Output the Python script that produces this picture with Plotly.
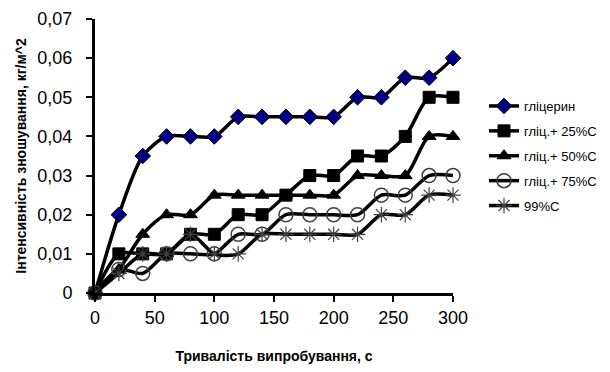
import plotly.graph_objects as go

time_s = [0, 20, 40, 60, 80, 100, 120, 140, 160, 180, 200, 220, 240, 260, 280, 300]
glycerin = [0, 0.02, 0.035, 0.04, 0.04, 0.04, 0.045, 0.045, 0.045, 0.045, 0.045, 0.05, 0.05, 0.055, 0.055, 0.06]
gl_25C = [0, 0.01, 0.01, 0.01, 0.015, 0.015, 0.02, 0.02, 0.025, 0.03, 0.03, 0.035, 0.035, 0.04, 0.05, 0.05]
gl_50C = [0, 0.006, 0.015, 0.02, 0.02, 0.025, 0.025, 0.025, 0.025, 0.025, 0.025, 0.03, 0.03, 0.03, 0.04, 0.04]
gl_75C = [0, 0.006, 0.005, 0.01, 0.01, 0.01, 0.015, 0.015, 0.02, 0.02, 0.02, 0.02, 0.025, 0.025, 0.03, 0.03]
c_99 = [0, 0.005, 0.01, 0.01, 0.015, 0.01, 0.01, 0.015, 0.015, 0.015, 0.015, 0.015, 0.02, 0.02, 0.025, 0.025]

names = ["гліцерин", "гліц.+ 25%C", "гліц.+ 50%C", "гліц.+ 75%C", "99%C"]
y_tickvals = [0, 0.01, 0.02, 0.03, 0.04, 0.05, 0.06, 0.07]
y_ticktext = ["0", "0,01", "0,02", "0,03", "0,04", "0,05", "0,06", "0,07"]
x_tickvals = [0, 50, 100, 150, 200, 250, 300]

FONT = "Liberation Sans, Arial, sans-serif"

styles = [
    dict(symbol="diamond", size=12, color="#000080", line=dict(color="#000000", width=1)),
    dict(symbol="square", size=12, color="#000000", line=dict(color="#000000", width=1)),
    dict(symbol="triangle-up", size=12, color="#000000", line=dict(color="#000000", width=1)),
    dict(symbol="circle-open", size=14, color="#404040", line=dict(color="#404040", width=1.5)),
    dict(symbol="asterisk-open", size=13, color="#404040", line=dict(color="#404040", width=1.2)),
]

fig = go.Figure()
for i, (nm, ys) in enumerate(zip(names, [glycerin, gl_25C, gl_50C, gl_75C, c_99])):
    fig.add_trace(go.Scatter(
        x=time_s, y=ys, name=nm, mode="lines+markers",
        line=dict(color="#000000", width=3.5, shape="spline", smoothing=0.8),
        marker=styles[i], cliponaxis=False, legendgroup=f"g{i}",
    ))

fig.update_layout(
    width=610, height=372,
    margin=dict(l=87, r=165, t=11, b=87, autoexpand=False),
    paper_bgcolor="white", plot_bgcolor="white",
    font=dict(family=FONT, color="#000000"),
    showlegend=True,
    legend=dict(
        x=476 / 610, xref="container", xanchor="left",
        y=1 - 83 / 372, yref="container", yanchor="top",
        font=dict(size=13, family=FONT), tracegroupgap=5, itemwidth=30,
        bgcolor="rgba(0,0,0,0)", borderwidth=0,
    ),
    xaxis=dict(
        range=[0, 300], tickvals=x_tickvals, showgrid=False, zeroline=False,
        showline=True, linecolor="#000000", linewidth=3,
        ticks="outside", ticklen=6, tickwidth=2, tickcolor="#000000",
        tickfont=dict(size=18, family=FONT), ticklabeloverflow="allow",
        title=dict(text="<b>Тривалість випробування, с</b>", font=dict(size=14, family=FONT), standoff=25),
    ),
    yaxis=dict(
        range=[0, 0.07], tickvals=y_tickvals, ticktext=y_ticktext, showgrid=False, zeroline=False,
        showline=True, linecolor="#000000", linewidth=3,
        ticks="outside", ticklen=6, tickwidth=2, tickcolor="#000000",
        tickfont=dict(size=18, family=FONT), ticklabelstandoff=10, ticklabeloverflow="allow",
        title=dict(text="<b>Інтенсивність зношування, кг/м^2</b>", font=dict(size=14, family=FONT), standoff=8),
    ),
)

fig.write_html("out.html")
